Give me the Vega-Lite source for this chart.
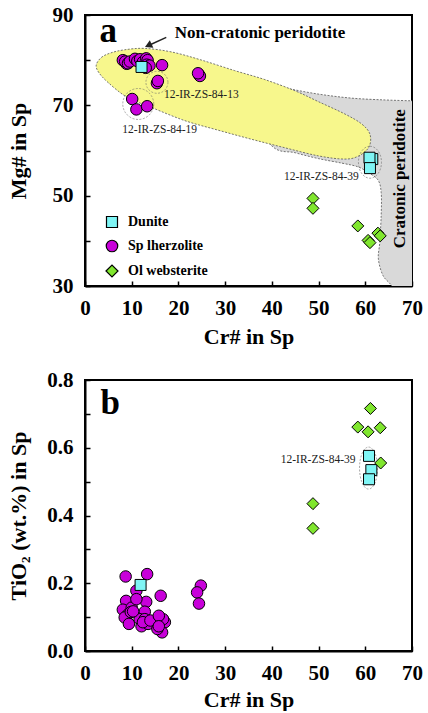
{
  "$schema": "https://vega.github.io/schema/vega-lite/v6.json",
  "padding": {"left": 5, "top": 3, "right": 0, "bottom": 0},
  "spacing": 20,
  "datasets": {
    "pa": [
      {"Cr": 8.1, "Mg": 80.0, "type": "Sp lherzolite"},
      {"Cr": 8.9, "Mg": 79.2, "type": "Sp lherzolite"},
      {"Cr": 8.6, "Mg": 79.7, "type": "Sp lherzolite"},
      {"Cr": 9.2, "Mg": 79.3, "type": "Sp lherzolite"},
      {"Cr": 9.6, "Mg": 79.7, "type": "Sp lherzolite"},
      {"Cr": 10.7, "Mg": 80.3, "type": "Sp lherzolite"},
      {"Cr": 11.2, "Mg": 79.8, "type": "Sp lherzolite"},
      {"Cr": 11.8, "Mg": 80.2, "type": "Sp lherzolite"},
      {"Cr": 12.4, "Mg": 79.6, "type": "Sp lherzolite"},
      {"Cr": 13.1, "Mg": 80.4, "type": "Sp lherzolite"},
      {"Cr": 13.4, "Mg": 80.0, "type": "Sp lherzolite"},
      {"Cr": 13.2, "Mg": 79.0, "type": "Sp lherzolite"},
      {"Cr": 13.8, "Mg": 78.8, "type": "Sp lherzolite"},
      {"Cr": 13.0, "Mg": 78.3, "type": "Sp lherzolite"},
      {"Cr": 16.5, "Mg": 78.9, "type": "Sp lherzolite"},
      {"Cr": 15.4, "Mg": 74.9, "type": "Sp lherzolite"},
      {"Cr": 15.6, "Mg": 75.4, "type": "Sp lherzolite"},
      {"Cr": 24.4, "Mg": 76.8, "type": "Sp lherzolite"},
      {"Cr": 24.6, "Mg": 76.5, "type": "Sp lherzolite"},
      {"Cr": 24.2, "Mg": 77.1, "type": "Sp lherzolite"},
      {"Cr": 10.1, "Mg": 71.4, "type": "Sp lherzolite"},
      {"Cr": 11.0, "Mg": 69.1, "type": "Sp lherzolite"},
      {"Cr": 13.3, "Mg": 69.8, "type": "Sp lherzolite"},
      {"Cr": 48.8, "Mg": 49.4, "type": "Ol websterite"},
      {"Cr": 48.8, "Mg": 47.2, "type": "Ol websterite"},
      {"Cr": 58.4, "Mg": 43.3, "type": "Ol websterite"},
      {"Cr": 60.6, "Mg": 40.1, "type": "Ol websterite"},
      {"Cr": 61.0, "Mg": 39.6, "type": "Ol websterite"},
      {"Cr": 62.7, "Mg": 41.7, "type": "Ol websterite"},
      {"Cr": 63.2, "Mg": 41.1, "type": "Ol websterite"},
      {"Cr": 12.1, "Mg": 78.5, "type": "Dunite"},
      {"Cr": 61.5, "Mg": 58.1, "type": "Dunite"},
      {"Cr": 60.9, "Mg": 58.4, "type": "Dunite"},
      {"Cr": 61.0, "Mg": 56.1, "type": "Dunite"}
    ],
    "pb": [
      {"Cr": 8.7, "Ti": 0.22, "type": "Sp lherzolite"},
      {"Cr": 13.3, "Ti": 0.227, "type": "Sp lherzolite"},
      {"Cr": 16.2, "Ti": 0.163, "type": "Sp lherzolite"},
      {"Cr": 11.0, "Ti": 0.178, "type": "Sp lherzolite"},
      {"Cr": 24.8, "Ti": 0.193, "type": "Sp lherzolite"},
      {"Cr": 24.0, "Ti": 0.173, "type": "Sp lherzolite"},
      {"Cr": 24.4, "Ti": 0.14, "type": "Sp lherzolite"},
      {"Cr": 8.8, "Ti": 0.148, "type": "Sp lherzolite"},
      {"Cr": 13.1, "Ti": 0.145, "type": "Sp lherzolite"},
      {"Cr": 8.1, "Ti": 0.122, "type": "Sp lherzolite"},
      {"Cr": 9.2, "Ti": 0.108, "type": "Sp lherzolite"},
      {"Cr": 8.5, "Ti": 0.099, "type": "Sp lherzolite"},
      {"Cr": 9.4, "Ti": 0.08, "type": "Sp lherzolite"},
      {"Cr": 12.8, "Ti": 0.116, "type": "Sp lherzolite"},
      {"Cr": 11.7, "Ti": 0.094, "type": "Sp lherzolite"},
      {"Cr": 12.8, "Ti": 0.094, "type": "Sp lherzolite"},
      {"Cr": 12.1, "Ti": 0.073, "type": "Sp lherzolite"},
      {"Cr": 13.5, "Ti": 0.08, "type": "Sp lherzolite"},
      {"Cr": 12.4, "Ti": 0.085, "type": "Sp lherzolite"},
      {"Cr": 14.0, "Ti": 0.09, "type": "Sp lherzolite"},
      {"Cr": 17.1, "Ti": 0.085, "type": "Sp lherzolite"},
      {"Cr": 16.7, "Ti": 0.094, "type": "Sp lherzolite"},
      {"Cr": 15.8, "Ti": 0.104, "type": "Sp lherzolite"},
      {"Cr": 16.5, "Ti": 0.055, "type": "Sp lherzolite"},
      {"Cr": 15.5, "Ti": 0.065, "type": "Sp lherzolite"},
      {"Cr": 15.8, "Ti": 0.073, "type": "Sp lherzolite"},
      {"Cr": 10.0, "Ti": 0.128, "type": "Sp lherzolite"},
      {"Cr": 9.8, "Ti": 0.115, "type": "Sp lherzolite"},
      {"Cr": 11.0, "Ti": 0.153, "type": "Sp lherzolite"},
      {"Cr": 10.3, "Ti": 0.117, "type": "Sp lherzolite"},
      {"Cr": 61.1, "Ti": 0.716, "type": "Ol websterite"},
      {"Cr": 58.4, "Ti": 0.661, "type": "Ol websterite"},
      {"Cr": 63.2, "Ti": 0.659, "type": "Ol websterite"},
      {"Cr": 60.6, "Ti": 0.647, "type": "Ol websterite"},
      {"Cr": 48.8, "Ti": 0.435, "type": "Ol websterite"},
      {"Cr": 48.8, "Ti": 0.362, "type": "Ol websterite"},
      {"Cr": 61.3, "Ti": 0.534, "type": "Dunite"},
      {"Cr": 63.3, "Ti": 0.555, "type": "Ol websterite"},
      {"Cr": 60.8, "Ti": 0.576, "type": "Dunite"},
      {"Cr": 60.8, "Ti": 0.507, "type": "Dunite"},
      {"Cr": 11.9, "Ti": 0.195, "type": "Dunite"}
    ],
    "ellipse": [
      {"k": 1, "Cr": 2.4, "Mg": 78.9},
      {"k": 2, "Cr": 3.5, "Mg": 80.6},
      {"k": 3, "Cr": 5.5, "Mg": 81.6},
      {"k": 4, "Cr": 8.5, "Mg": 82.3},
      {"k": 5, "Cr": 12.8, "Mg": 82.6},
      {"k": 6, "Cr": 18.6, "Mg": 81.8},
      {"k": 7, "Cr": 25.0, "Mg": 80.0},
      {"k": 8, "Cr": 32.0, "Mg": 77.7},
      {"k": 9, "Cr": 38.5, "Mg": 75.7},
      {"k": 10, "Cr": 45.0, "Mg": 73.2},
      {"k": 11, "Cr": 50.0, "Mg": 70.8},
      {"k": 12, "Cr": 55.6, "Mg": 68.1},
      {"k": 13, "Cr": 59.2, "Mg": 65.9},
      {"k": 14, "Cr": 61.0, "Mg": 63.6},
      {"k": 15, "Cr": 60.8, "Mg": 60.8},
      {"k": 16, "Cr": 58.6, "Mg": 58.8},
      {"k": 17, "Cr": 55.6, "Mg": 58.1},
      {"k": 18, "Cr": 50.0, "Mg": 58.8},
      {"k": 19, "Cr": 42.8, "Mg": 60.6},
      {"k": 20, "Cr": 35.6, "Mg": 62.5},
      {"k": 21, "Cr": 28.5, "Mg": 64.5},
      {"k": 22, "Cr": 21.4, "Mg": 66.6},
      {"k": 23, "Cr": 14.3, "Mg": 69.5},
      {"k": 24, "Cr": 9.0, "Mg": 71.8},
      {"k": 25, "Cr": 5.0, "Mg": 75.0},
      {"k": 26, "Cr": 3.0, "Mg": 77.2}
    ],
    "gray": [
      {"k": 1, "Cr": 34.0, "Mg": 70.0},
      {"k": 2, "Cr": 38.0, "Mg": 74.8},
      {"k": 3, "Cr": 43.0, "Mg": 73.8},
      {"k": 4, "Cr": 49.9, "Mg": 72.5},
      {"k": 5, "Cr": 57.0, "Mg": 71.6},
      {"k": 6, "Cr": 64.0, "Mg": 71.2},
      {"k": 7, "Cr": 70.0, "Mg": 71.0},
      {"k": 8, "Cr": 74.0, "Mg": 70.9},
      {"k": 9, "Cr": 74.0, "Mg": 27.0},
      {"k": 10, "Cr": 67.0, "Mg": 27.0},
      {"k": 11, "Cr": 65.6, "Mg": 30.1},
      {"k": 12, "Cr": 63.8, "Mg": 32.3},
      {"k": 13, "Cr": 62.8, "Mg": 36.0},
      {"k": 14, "Cr": 63.1, "Mg": 39.7},
      {"k": 15, "Cr": 63.4, "Mg": 45.6},
      {"k": 16, "Cr": 63.4, "Mg": 50.7},
      {"k": 17, "Cr": 62.7, "Mg": 53.5},
      {"k": 18, "Cr": 60.5, "Mg": 55.2},
      {"k": 19, "Cr": 58.4, "Mg": 56.4},
      {"k": 20, "Cr": 55.0, "Mg": 57.2},
      {"k": 21, "Cr": 50.0, "Mg": 58.2},
      {"k": 22, "Cr": 45.0, "Mg": 59.5},
      {"k": 23, "Cr": 40.0, "Mg": 61.0}
    ]
  },
  "vconcat": [
    {
      "width": 327,
      "height": 271,
      "encoding": {
        "x": {"field": "Cr", "type": "quantitative", "scale": {"domain": [0, 70], "nice": false, "zero": false},
              "axis": {"title": "Cr# in Sp", "values": [0, 10, 20, 30, 40, 50, 60, 70], "titleX": 163.5, "titleY": 57, "titleBaseline": "alphabetic"}},
        "y": {"field": "Mg", "type": "quantitative", "scale": {"domain": [30, 90], "nice": false, "zero": false},
              "axis": {"title": "Mg# in Sp", "values": [30, 40, 50, 60, 70, 80, 90], "labelExpr": "datum.value % 20 == 10 ? datum.label : ''", "titleX": -60, "titleY": 135.5, "titleBaseline": "alphabetic"}}
      },
      "layer": [
        {
          "data": {"name": "gray"},
          "mark": {"type": "line", "interpolate": "cardinal-closed", "fill": "#d9d9d9", "stroke": "#555555", "strokeWidth": 0.8, "strokeDash": [2, 1.5], "clip": true},
          "encoding": {"order": {"field": "k", "type": "quantitative"}}
        },
        {
          "data": {"name": "ellipse"},
          "mark": {"type": "line", "interpolate": "cardinal-closed", "fill": "#f7f78c", "stroke": "#555555", "strokeWidth": 0.8, "strokeDash": [2, 1.5]},
          "encoding": {"order": {"field": "k", "type": "quantitative"}}
        },
        {
          "data": {"values": [{"Cr": 15.4, "Mg": 75.1}]},
          "mark": {"type": "point", "shape": "circle", "size": 484, "filled": false, "stroke": "#666666", "strokeWidth": 0.8, "strokeDash": [2, 1.5]}
        },
        {
          "data": {"values": [{"Cr": 11.4, "Mg": 70.3}]},
          "mark": {"type": "point", "shape": "circle", "size": 960, "filled": false, "stroke": "#666666", "strokeWidth": 0.8, "strokeDash": [2, 1.5]}
        },
        {
          "data": {"values": [{"Cr": 61.0, "Mg": 57.4}]},
          "mark": {"type": "point", "shape": "M0,-1A0.72,1,0,1,1,0,1A0.72,1,0,1,1,0,-1Z", "size": 1024, "filled": false, "stroke": "#666666", "strokeWidth": 0.8, "strokeDash": [2, 1.5]}
        },
        {
          "data": {"values": [{"Cr": 17.4, "Mg": 85.06, "Cr2": 13.6, "Mg2": 83.25}]},
          "mark": {"type": "rule", "stroke": "#222222", "strokeWidth": 1.5},
          "encoding": {"x2": {"field": "Cr2"}, "y2": {"field": "Mg2"}}
        },
        {
          "data": {"values": [{"Cr": 13.55, "Mg": 83.23}]},
          "mark": {"type": "point", "shape": "triangle-up", "angle": 245, "size": 70, "filled": true, "fill": "#222222", "stroke": null, "opacity": 1}
        },
        {
          "data": {"name": "pa"},
          "mark": {"type": "point", "filled": true, "stroke": "black", "strokeWidth": 1, "opacity": 1},
          "encoding": {
            "fill": {"field": "type", "type": "nominal",
                     "scale": {"domain": ["Dunite", "Sp lherzolite", "Ol websterite"], "range": ["#7ff5f5", "#c800da", "#80e62e"]},
                     "legend": {"title": null, "orient": "none", "legendX": 20, "legendY": 200, "padding": 0, "labelFont": "Liberation Serif", "labelFontSize": 14, "labelFontWeight": "bold", "labelColor": "black", "symbolStrokeColor": "black", "symbolStrokeWidth": 1.2, "rowPadding": 7, "labelOffset": 9,
                                "encoding": {"symbols": {"stroke": {"value": "black"}, "strokeWidth": {"value": 1.2}}}}},
            "shape": {"field": "type", "type": "nominal",
                      "scale": {"domain": ["Dunite", "Sp lherzolite", "Ol websterite"], "range": ["square", "circle", "diamond"]},
                      "legend": {"title": null, "orient": "none", "legendX": 20, "legendY": 200, "padding": 0, "labelFont": "Liberation Serif", "labelFontSize": 14, "labelFontWeight": "bold", "labelColor": "black", "symbolStrokeColor": "black", "symbolStrokeWidth": 1.2, "rowPadding": 7, "labelOffset": 9,
                                 "encoding": {"symbols": {"stroke": {"value": "black"}, "strokeWidth": {"value": 1.2}}}}},
            "size": {"field": "type", "type": "nominal",
                     "scale": {"domain": ["Dunite", "Sp lherzolite", "Ol websterite"], "range": [121, 144, 250]},
                     "legend": {"title": null, "orient": "none", "legendX": 20, "legendY": 200, "padding": 0, "labelFont": "Liberation Serif", "labelFontSize": 14, "labelFontWeight": "bold", "labelColor": "black", "symbolStrokeColor": "black", "symbolStrokeWidth": 1.2, "rowPadding": 7, "labelOffset": 9,
                                "encoding": {"symbols": {"stroke": {"value": "black"}, "strokeWidth": {"value": 1.2}}}}}
          }
        },
        {
          "data": {"values": [{"Cr": 5.0, "Mg": 83.95, "t": "a"}]},
          "mark": {"type": "text", "font": "Liberation Serif", "fontWeight": "bold", "fontSize": 35, "align": "center", "baseline": "alphabetic", "color": "black"},
          "encoding": {"text": {"field": "t"}}
        },
        {
          "data": {"values": [{"Cr": 37.46, "Mg": 84.9, "t": "Non-cratonic peridotite"}]},
          "mark": {"type": "text", "font": "Liberation Serif", "fontWeight": "bold", "fontSize": 17, "align": "center", "baseline": "alphabetic", "color": "black"},
          "encoding": {"text": {"field": "t"}}
        },
        {
          "data": {"values": [{"Cr": 68.4, "Mg": 53.75, "t": "Cratonic peridotite"}]},
          "mark": {"type": "text", "font": "Liberation Serif", "fontWeight": "bold", "fontSize": 17, "align": "center", "baseline": "alphabetic", "angle": 270, "color": "black"},
          "encoding": {"text": {"field": "t"}}
        },
        {
          "data": {"values": [
            {"Cr": 16.9, "Mg": 72.2, "t": "12-IR-ZS-84-13"},
            {"Cr": 8.0, "Mg": 64.6, "t": "12-IR-ZS-84-19"},
            {"Cr": 42.6, "Mg": 54.1, "t": "12-IR-ZS-84-39"}
          ]},
          "mark": {"type": "text", "font": "Liberation Serif", "fontSize": 11.5, "align": "left", "baseline": "middle", "color": "#222222"},
          "encoding": {"text": {"field": "t"}}
        }
      ]
    },
    {
      "width": 327,
      "height": 271,
      "encoding": {
        "x": {"field": "Cr", "type": "quantitative", "scale": {"domain": [0, 70], "nice": false, "zero": false},
              "axis": {"title": "Cr# in Sp", "values": [0, 10, 20, 30, 40, 50, 60, 70], "titleX": 163.5, "titleY": 55, "titleBaseline": "alphabetic"}},
        "y": {"field": "Ti", "type": "quantitative", "scale": {"domain": [0, 0.8], "nice": false, "zero": false},
              "axis": {"title": "TiO₂ (wt.%) in Sp", "values": [0, 0.1, 0.2, 0.3, 0.4, 0.5, 0.6, 0.7, 0.8], "labelExpr": "round(datum.value * 10) % 2 == 0 ? format(datum.value, '.1f') : ''", "titleX": -60, "titleY": 135.5, "titleBaseline": "alphabetic"}}
      },
      "layer": [
        {
          "data": {"values": [{"Cr": 60.7, "Ti": 0.54}]},
          "mark": {"type": "point", "shape": "M0,-1A0.43,1,0,1,1,0,1A0.43,1,0,1,1,0,-1Z", "size": 1764, "filled": false, "stroke": "#666666", "strokeWidth": 0.8, "strokeDash": [2, 1.5]}
        },
        {
          "data": {"name": "pb"},
          "mark": {"type": "point", "filled": true, "stroke": "black", "strokeWidth": 1, "opacity": 1},
          "encoding": {
            "fill": {"field": "type", "type": "nominal",
                     "scale": {"domain": ["Dunite", "Sp lherzolite", "Ol websterite"], "range": ["#7ff5f5", "#c800da", "#80e62e"]}, "legend": null},
            "shape": {"field": "type", "type": "nominal",
                      "scale": {"domain": ["Dunite", "Sp lherzolite", "Ol websterite"], "range": ["square", "circle", "diamond"]}, "legend": null},
            "size": {"field": "type", "type": "nominal",
                     "scale": {"domain": ["Dunite", "Sp lherzolite", "Ol websterite"], "range": [121, 144, 250]}, "legend": null}
          }
        },
        {
          "data": {"values": [{"Cr": 5.4, "Ti": 0.699, "t": "b"}]},
          "mark": {"type": "text", "font": "Liberation Serif", "fontWeight": "bold", "fontSize": 35, "align": "center", "baseline": "alphabetic", "color": "black"},
          "encoding": {"text": {"field": "t"}}
        },
        {
          "data": {"values": [{"Cr": 41.9, "Ti": 0.564, "t": "12-IR-ZS-84-39"}]},
          "mark": {"type": "text", "font": "Liberation Serif", "fontSize": 11.5, "align": "left", "baseline": "middle", "color": "#222222"},
          "encoding": {"text": {"field": "t"}}
        }
      ]
    }
  ],
  "resolve": {
    "scale": {"fill": "independent", "shape": "independent", "size": "independent"},
    "legend": {"fill": "independent", "shape": "independent", "size": "independent"}
  },
  "config": {
    "font": "Liberation Serif",
    "view": {"stroke": "black", "strokeWidth": 2},
    "axis": {
      "labelFont": "Liberation Serif", "labelFontSize": 21, "labelFontWeight": "bold", "labelColor": "black",
      "titleFont": "Liberation Serif", "titleFontSize": 22, "titleFontWeight": "bold", "titleColor": "black",
      "domainColor": "black", "domainWidth": 2, "tickColor": "black", "tickWidth": 1.5, "tickSize": -5,
      "grid": false, "labelFlush": false, "labelOverlap": false
    },
    "axisX": {"labelPadding": 16},
    "axisY": {"labelPadding": 17}
  }
}
